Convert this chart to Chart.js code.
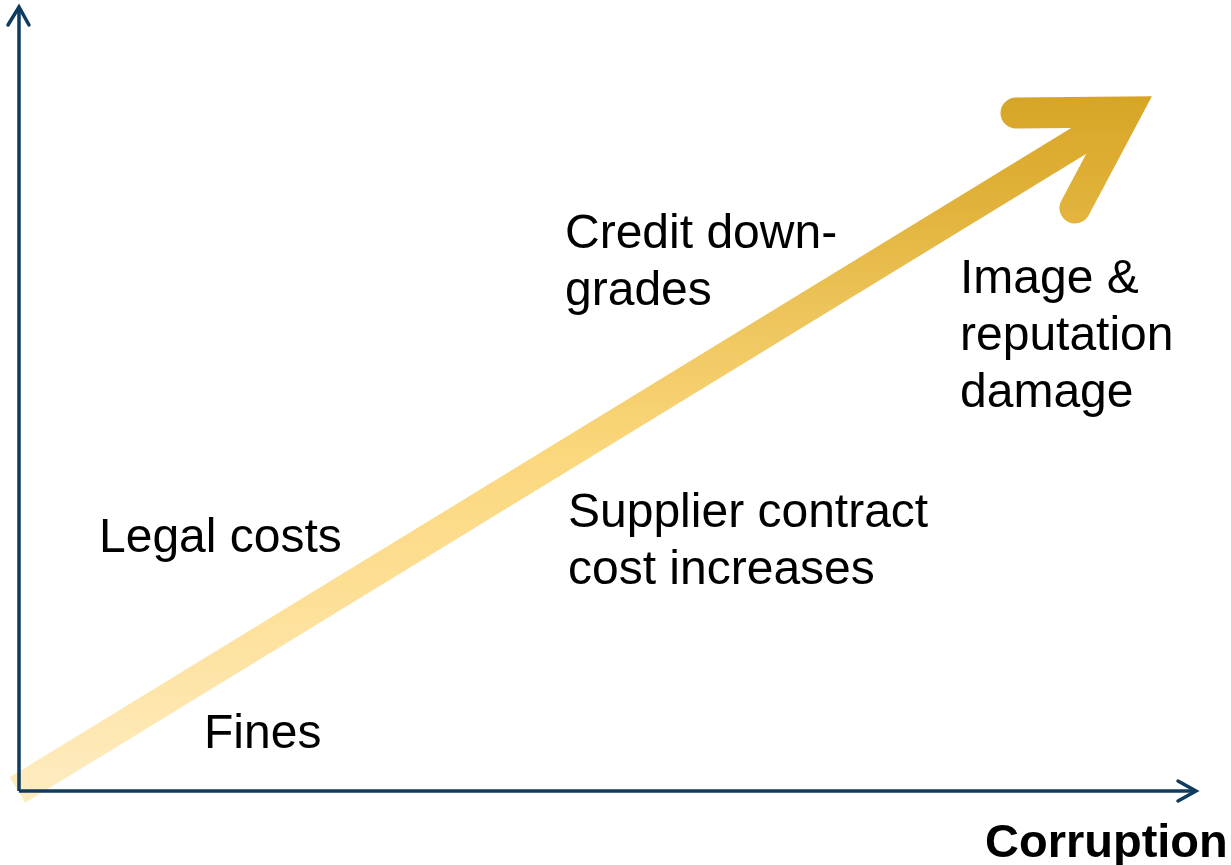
<!DOCTYPE html>
<html>
<head>
<meta charset="utf-8">
<script src="https://cdn.jsdelivr.net/npm/chart.js@4"></script>
<style>
  html, body { margin: 0; padding: 0; background: #ffffff; }
  #wrap { width: 1231px; height: 865px; }
</style>
</head>
<body>
<div id="wrap"><canvas id="c" width="1231" height="865"></canvas></div>
<script>
// ---- Data (corruption on x, cost on y; origin at the axes' corner) ----
const trendCorruption = [-1.5, 1107];
const trendCost       = [1, 679];
const headCorruption  = [997, 1107, 1056];
const headCost        = [678, 679, 583];

const xAxisCorruption = [0, 1176];
const xAxisCost       = [0, 0];
const xTipCorruption  = [1159, 1177, 1159];
const xTipCost        = [10, 0, -10];

const yAxisCorruption = [0, 0];
const yAxisCost       = [0, 784];
const yTipCorruption  = [-11, 0, 10];
const yTipCost        = [766, 784, 766];

const costLabels      = [["Legal costs"], ["Fines"], ["Credit down-", "grades"], ["Supplier contract", "cost increases"], ["Image &", "reputation", "damage"]];
const labelCorruption = [80, 185, 546, 549, 941];
const labelCost       = [239, 43, 543, 264, 498];
const xAxisTitle      = "Corruption";
const xTitlePos       = [966, -66];

function pts(xs, ys) { return xs.map((x, i) => ({ x: x, y: ys[i] })); }

const NAVY = '#0f3b5f';

function goldGradient(context) {
  const chart = context.chart;
  const area = chart.chartArea;
  if (!area) return '#f5d070';
  const y0 = chart.scales.y.getPixelForValue(695);
  const y1 = chart.scales.y.getPixelForValue(-12);
  const g = chart.ctx.createLinearGradient(0, y0, 0, y1);
  g.addColorStop(0.0, '#d7a526');
  g.addColorStop(0.15, '#e1b23a');
  g.addColorStop(0.3, '#edc45a');
  g.addColorStop(0.5, '#fbd77c');
  g.addColorStop(0.7, '#fddf95');
  g.addColorStop(1.0, '#feecc2');
  return g;
}

const textPlugin = {
  id: 'textPlugin',
  afterDatasetsDraw(chart) {
    const c = chart.ctx;
    const sx = chart.scales.x, sy = chart.scales.y;
    c.save();
    c.fillStyle = '#000000';
    c.textAlign = 'left';
    c.textBaseline = 'alphabetic';
    c.font = '48px "Liberation Sans", Arial, sans-serif';
    costLabels.forEach((lines, i) => {
      const px = sx.getPixelForValue(labelCorruption[i]);
      const py = sy.getPixelForValue(labelCost[i]);
      lines.forEach((t, j) => c.fillText(t, px, py + j * 57));
    });
    c.font = 'bold 47px "Liberation Sans", Arial, sans-serif';
    c.fillText(xAxisTitle, sx.getPixelForValue(xTitlePos[0]), sy.getPixelForValue(xTitlePos[1]));
    c.restore();
  }
};

const axisStyle = {
  borderColor: NAVY, borderWidth: 3.5, pointRadius: 0, showLine: true, fill: false,
  tension: 0, order: 0, borderCapStyle: 'butt', borderJoinStyle: 'miter', clip: false
};
const tipStyle = Object.assign({}, axisStyle, { borderWidth: 3.5, borderCapStyle: 'round', borderJoinStyle: 'miter' });

new Chart(document.getElementById('c'), {
  type: 'scatter',
  data: {
    datasets: [
      Object.assign({ data: pts(xAxisCorruption, xAxisCost) }, axisStyle),
      Object.assign({ data: pts(xTipCorruption, xTipCost) }, tipStyle),
      Object.assign({ data: pts(yAxisCorruption, yAxisCost) }, axisStyle),
      Object.assign({ data: pts(yTipCorruption, yTipCost) }, tipStyle),
      {
        data: pts(trendCorruption, trendCost), showLine: true, pointRadius: 0, fill: false,
        borderColor: goldGradient, borderWidth: 30, borderCapStyle: 'butt', borderJoinStyle: 'miter',
        tension: 0, order: 2, clip: false
      },
      {
        data: pts(headCorruption, headCost), showLine: true, pointRadius: 0, fill: false,
        borderColor: goldGradient, borderWidth: 31, borderCapStyle: 'round', borderJoinStyle: 'miter',
        tension: 0, order: 1, clip: false
      }
    ]
  },
  options: {
    responsive: false,
    animation: false,
    devicePixelRatio: 1,
    events: [],
    layout: { padding: 0 },
    plugins: { legend: { display: false }, tooltip: { enabled: false }, title: { display: false } },
    scales: {
      x: { type: 'linear', display: false, min: -19, max: 1212 },
      y: { type: 'linear', display: false, min: -74, max: 791 }
    }
  },
  plugins: [textPlugin]
});
</script>
</body>
</html>
